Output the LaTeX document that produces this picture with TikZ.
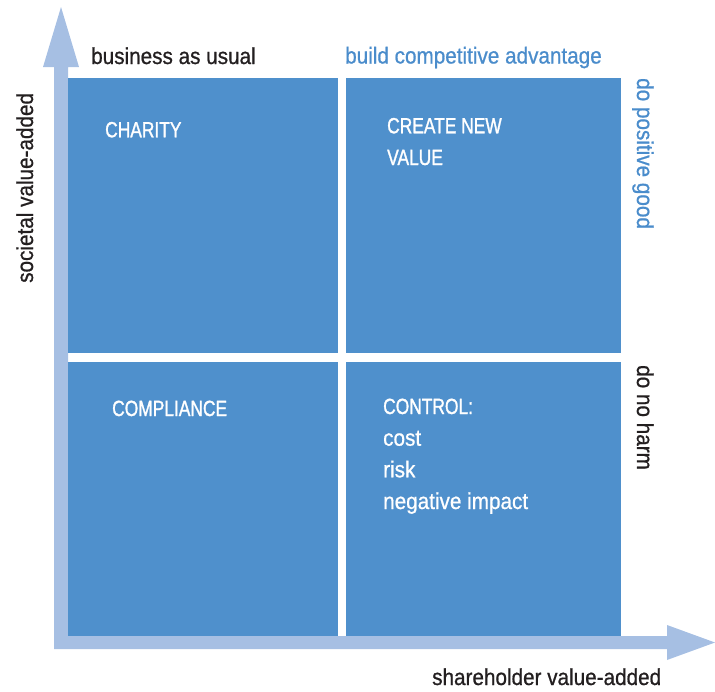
\documentclass[tikz,border=0pt]{standalone}
\usepackage{fontspec}
\setmainfont{Liberation Sans}[FakeStretch=0.9,FakeBold=0.8]
\newfontfamily\capsfont{Liberation Sans}[FakeStretch=0.79,FakeBold=1.2]
\definecolor{boxblue}{HTML}{4F90CC}
\definecolor{axisblue}{HTML}{A6BFE3}
\definecolor{txtblue}{HTML}{4A8CCB}
\definecolor{txtdark}{HTML}{231F20}
\begin{document}
\begin{tikzpicture}[x=1pt,y=-1pt,
  quad/.style={fill=boxblue,draw=none},
  lbl/.style={inner sep=0pt,anchor=base west,font=\fontsize{23}{28}\selectfont},
  darklbl/.style={lbl,text=txtdark},
  bluelbl/.style={lbl,text=txtblue},
  caplbl/.style={inner sep=0pt,anchor=base west,text=white,font=\capsfont\fontsize{22}{27}\selectfont},
  inlbl/.style={lbl,text=white}]
\useasboundingbox (0,0) rectangle (715,691);
% axes
\fill[axisblue] (54,649) -- (54,67) -- (43,67) -- (61,7) -- (79,67) -- (68,67) -- (68,636)
  -- (667,636) -- (667,625) -- (715,642.5) -- (667,660) -- (667,649) -- cycle;
% quadrants
\path[quad] (68,78) rectangle (338,353) node[pos=0.5] (q1) {};
\path[quad] (346,78) rectangle (621,353) node[pos=0.5] (q2) {};
\path[quad] (68,362) rectangle (338,636) node[pos=0.5] (q3) {};
\path[quad] (346,362) rectangle (621,636) node[pos=0.5] (q4) {};
% headings
\node[darklbl] (bau) at (91,64) {business as usual};
\node[bluelbl] (bca) at (345,63.5) {build competitive advantage};
\node[darklbl] (shv) at (432,685) {shareholder value-added};
\node[darklbl,rotate=90] (sva) at (33,283) {societal value-added};
\node[bluelbl,rotate=-90] (dpg) at (637,78) {do positive good};
\node[darklbl,rotate=-90] (dnh) at (637,365) {do no harm};
% quadrant texts
\node[caplbl] (charity) at (105,137.3) {CHARITY};
\node[caplbl] (create) at (387,133.3) {CREATE NEW};
\node[caplbl] (value) at (387,165) {VALUE};
\node[caplbl] (compl) at (112,416) {COMPLIANCE};
\node[caplbl] (control) at (383,414) {CONTROL:};
\node[inlbl] (cost) at (383,445.7) {cost};
\node[inlbl] (risk) at (383,477.3) {risk};
\node[inlbl] (neg) at (383,509) {negative impact};
\end{tikzpicture}
\end{document}
